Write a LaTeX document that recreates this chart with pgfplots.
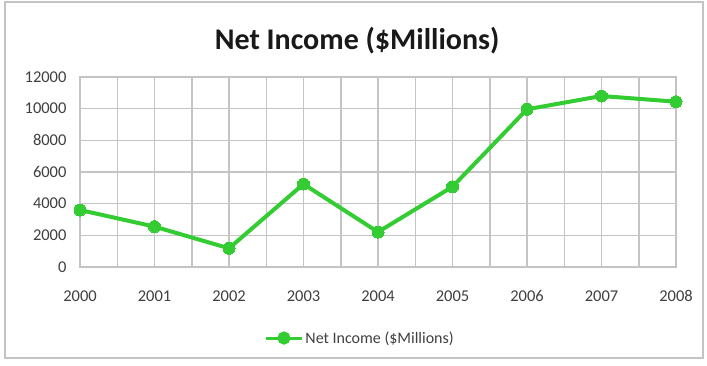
\documentclass[border=0pt]{standalone}
\usepackage{pgfplots}
\pgfplotsset{compat=1.18}
\usepackage{fontspec}
\setmainfont{Carlito}
\definecolor{lgreen}{HTML}{33CC33}
\definecolor{gridc}{HTML}{C4C4C4}
\definecolor{tickc}{HTML}{404040}
\begin{document}
\begin{tikzpicture}[x=1pt,y=1pt]
\useasboundingbox (0,0) rectangle (707,365);
\fill[white] (0,0) rectangle (707,365);
\draw[gridc, line width=1.5pt] (5,7) rectangle (703,363);
\begin{axis}[
  at={(80pt,98pt)}, anchor=south west,
  scale only axis, width=596pt, height=190pt,
  xmin=0, xmax=8, ymin=0, ymax=12000,
  xtick={0,...,8},
  xticklabels={2000,2001,2002,2003,2004,2005,2006,2007,2008},
  minor x tick num=1,
  ytick={0,2000,...,12000},
  grid=both,
  major grid style={gridc, line width=1.5pt},
  minor grid style={gridc, line width=1.5pt},
  axis line style={gridc, line width=1.5pt},
  major tick length=0pt, minor tick length=0pt,
  /pgf/number format/assume math mode=true,
  scaled y ticks=false,
  yticklabel style={/pgf/number format/1000 sep={}, font=\fontsize{16.5}{17}\selectfont, text=tickc, xshift=-10pt},
  xticklabel style={font=\fontsize{16.5}{17}\selectfont, text=tickc, yshift=-20pt},
  title={\textbf{Net Income (\$Millions)}},
  title style={at={(0.465,1.16)}, anchor=center, font=\fontsize{30}{32}\selectfont, text=black!90},
  legend style={at={(0.47,-0.374)}, anchor=center, draw=none, fill=none,
    font=\fontsize{16}{17}\selectfont, text=tickc},
  legend cell align=left,
  legend image code/.code={
    \draw[lgreen, line width=3pt] (0pt,0pt) -- (36pt,0pt);
    \fill[lgreen] (18pt,0pt) circle (4.5pt);
  },
]
\addplot[lgreen, line width=4pt, mark=*, mark size=6pt, mark options={fill=lgreen, draw=lgreen, line width=0pt}]
coordinates {(0,3600) (1,2550) (2,1180) (3,5240) (4,2210) (5,5070) (6,9960) (7,10800) (8,10440)};
\addlegendentry{Net Income (\$Millions)}
\end{axis}
\end{tikzpicture}
\end{document}
